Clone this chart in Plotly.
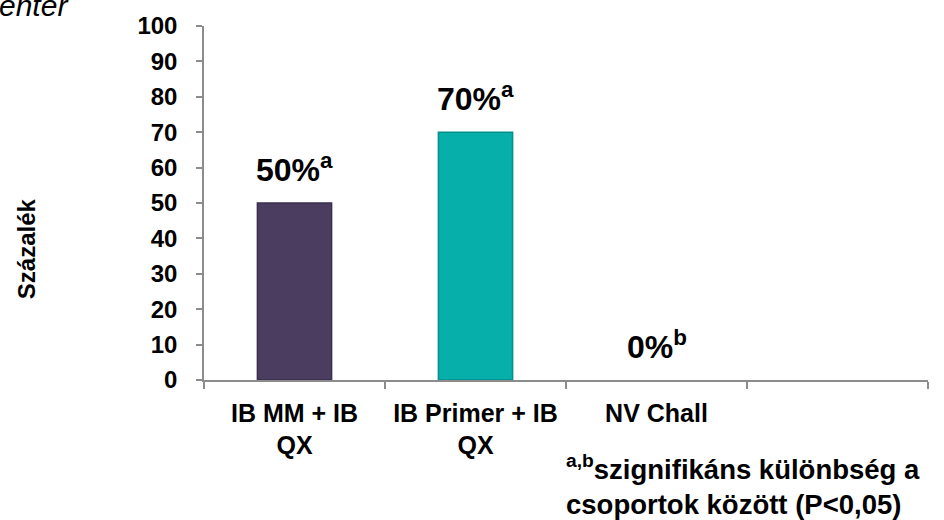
import plotly.graph_objects as go

# Chart data
categories = ["IB MM + IB<br>QX", "IB Primer + IB<br>QX", "NV Chall", " "]
values = [50, 70, 0, None]
letters = ["a", "a", "b", ""]
bar_colors = ["#4A3D60", "#07AFAA", "#07AFAA", "#07AFAA"]
edge_colors = ["#3A2F4E", "#058F8A", "#058F8A", "#058F8A"]
edge_widths = [1.5, 1.5, 0, 0]
y_ticks = list(range(0, 101, 10))

FONT = "Liberation Sans, Arial, sans-serif"
W, H = 944, 520
ML, MR, MT, MB = 204, 16, 20, 140
PW, PH = W - ML - MR, H - MT - MB

fig = go.Figure()
fig.add_trace(go.Bar(
    x=categories,
    y=values,
    width=0.41,
    marker=dict(color=bar_colors, line=dict(color=edge_colors, width=edge_widths)),
    hoverinfo="skip",
))

# value labels above bars
for cat, v, sup in zip(categories, values, letters):
    if v is None:
        continue
    fig.add_annotation(
        x=cat, y=v, xref="x", yref="y",
        text=f"<b>{v}%<sup>{sup}</sup></b>",
        showarrow=False, yanchor="bottom", xanchor="center", yshift=13,
        font=dict(family=FONT, size=32, color="#000000"),
    )

def px_x(p):
    return (p - ML) / PW

def px_y(p):
    return (H - MB - p) / PH

# y-axis title
fig.add_annotation(
    x=px_x(26), y=px_y(247), xref="paper", yref="paper",
    text="<b>Százalék</b>", textangle=-90, showarrow=False,
    xanchor="center", yanchor="middle",
    font=dict(family=FONT, size=24, color="#000000"),
)

# footnote
fig.add_annotation(
    x=px_x(564), y=px_y(449), xref="paper", yref="paper",
    text="<b><sup>a,b</sup>szignifikáns különbség a<br>csoportok között (P<0,05)</b>",
    showarrow=False, xanchor="left", yanchor="top", align="left",
    font=dict(family=FONT, size=27.5, color="#000000"),
)

# clipped heading fragment at the top-left corner
fig.add_annotation(
    x=px_x(-3), y=px_y(-20), xref="paper", yref="paper",
    text="<i>enter</i>", showarrow=False, xanchor="left", yanchor="top",
    font=dict(family=FONT, size=30, color="#000000"),
)

fig.update_layout(
    width=W, height=H,
    margin=dict(l=ML, r=MR, t=MT, b=MB, pad=0),
    paper_bgcolor="white", plot_bgcolor="white",
    showlegend=False, bargap=0.59,
)
fig.update_xaxes(
    type="category", range=[-0.5, 3.5],
    showline=True, linecolor="#8C8C8C", linewidth=1.5,
    ticks="outside", tickson="boundaries", ticklen=7, tickcolor="#8C8C8C", tickwidth=1.5,
    showgrid=False, zeroline=False,
    tickfont=dict(family=FONT, size=25, color="#000000"),
    ticklabelstandoff=10,
    tickvals=categories, ticktext=[f"<b>{c}</b>" for c in categories],
)
fig.update_yaxes(
    range=[0, 100], tickvals=y_ticks, ticktext=[f"<b>{t}</b>" for t in y_ticks],
    showline=True, linecolor="#8C8C8C", linewidth=1.5,
    ticks="outside", ticklen=6, tickcolor="#8C8C8C", tickwidth=1.5,
    showgrid=False, zeroline=False,
    tickfont=dict(family=FONT, size=24, color="#000000"),
    ticklabelstandoff=14,
)

fig.write_html("out.html")
